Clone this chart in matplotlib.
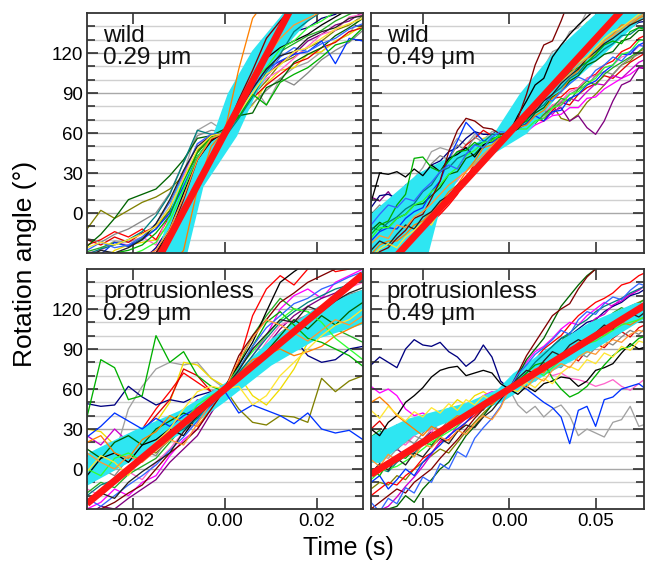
import matplotlib
matplotlib.use('Agg')
import matplotlib.pyplot as plt
import numpy as np
from matplotlib.ticker import FixedLocator

plt.rcParams['font.family'] = ['Liberation Sans', 'DejaVu Sans']
plt.rcParams['axes.unicode_minus'] = False

# ---------------- data ----------------
panel_labels = ["wild\n0.29 \u03bcm", "wild\n0.49 \u03bcm",
                "protrusionless\n0.29 \u03bcm", "protrusionless\n0.49 \u03bcm"]

time_short = [-0.030, -0.027, -0.024, -0.021, -0.018, -0.015, -0.012, -0.009, -0.006, -0.003,
              0.000, 0.003, 0.006, 0.009, 0.012, 0.015, 0.018, 0.021, 0.024, 0.027, 0.030]
time_long = [-0.080, -0.075, -0.070, -0.065, -0.060, -0.055, -0.050, -0.045, -0.040, -0.035,
             -0.030, -0.025, -0.020, -0.015, -0.010, -0.005, 0.000, 0.005, 0.010, 0.015,
             0.020, 0.025, 0.030, 0.035, 0.040, 0.045, 0.050, 0.055, 0.060, 0.065,
             0.070, 0.075, 0.080]

trace_colors = ['#808000', '#006400', '#a0a0a0', '#0033ff', '#f0dc00', '#000000', '#ff0000', '#ff8000',
                '#ff00ff', '#008080', '#800080', '#00b000', '#000080', '#33ff33', '#ff66cc', '#800000',
                '#e00000', '#3366ff', '#888888', '#222222', '#cc00cc', '#ffe633', '#22aa22', '#ff9933']

wild029_traces = [
    [-12, 2, -4, 2, 8, 12, 18, 28, 42, 56, 62, 74, 88, 99, 112, 117, 124, 129, 137, 141, 148],
    [-25, -16, -4, 10, 14, 18, 28, 40, 56, 58, 63, 73, 75, 94, 99, 113, 119, 124, 133, 139, 146],
    [-36, -27, -21, -22, -18, -10, 5, 30, 62, 68, 61, 79, 96, 81, 101, 109, 113, 121, 129, 134, 151],
    [-41, -31, -22, -25, -20, -12, 0, 20, 42, 55, 60, 76, 94, 108, 114, 119, 121, 129, 112, 131, 129],
    [-46, -37, -28, -24, -22, -20, -8, 15, 40, 58, 62, 71, 81, 97, 107, 109, 119, 121, 129, 134, 141],
    [-52, -45, -40, -38, -34, -30, -12, 15, 40, 54, 61, 79, 99, 116, 124, 129, 134, 141, 147, 153, 157],
    [-24, -20, -14, -18, -12, -20, -2, 20, 42, 55, 60, 81, 104, 126, 139, 151, 159, 166, 169, 176, 179],
    [-61, -58, -56, -54, -50, -46, -40, -28, 18, 50, 62, 108, 146, 160, 170, 175, 180, 185, 190, 195, 198],
    [-46, -39, -36, -35, -32, -28, -14, 8, 38, 56, 60, 86, 114, 121, 129, 141, 149, 156, 159, 166, 169],
    [-31, -27, -24, -20, -14, -2, 14, 38, 62, 59, 57, 71, 87, 106, 119, 136, 144, 151, 154, 161, 164],
    [-56, -50, -47, -44, -40, -36, -20, 5, 35, 52, 60, 74, 93, 103, 113, 119, 129, 134, 141, 144, 151],
    [-39, -32, -30, -28, -24, -15, -2, 24, 45, 57, 61, 72, 89, 81, 98, 104, 109, 117, 126, 129, 139],
    [-51, -46, -42, -40, -36, -26, -10, 14, 42, 55, 60, 83, 99, 119, 127, 136, 139, 146, 149, 156, 159],
    [-43, -38, -36, -32, -28, -22, -6, 18, 42, 56, 61, 79, 99, 109, 123, 129, 139, 144, 151, 151, 156],
    [-30, -28, -22, -24, -18, -24, 2, 28, 52, 57, 62, 77, 89, 101, 107, 116, 125, 134, 137, 147, 149],
    [-49, -46, -44, -40, -36, -30, -16, 10, 40, 55, 60, 85, 107, 131, 144, 156, 164, 171, 174, 181, 184],
    [-20, -24, -18, -22, -15, -10, 2, 22, 46, 57, 61, 70, 86, 96, 104, 112, 116, 124, 128, 136, 139],
    [-28, -22, -26, -24, -18, -8, 8, 30, 52, 59, 60, 80, 97, 103, 117, 124, 121, 127, 131, 138, 142],
    [-19, -22, -16, -12, -6, 0, 15, 38, 58, 62, 61, 69, 82, 92, 101, 96, 105, 115, 122, 128, 137],
    [-33, -28, -30, -26, -20, -8, 10, 32, 50, 58, 60, 77, 93, 108, 118, 121, 131, 136, 139, 146, 148],
    [-58, -54, -50, -47, -44, -40, -28, -2, 30, 52, 60, 84, 105, 124, 136, 146, 152, 160, 164, 170, 172],
    [-26, -22, -24, -20, -16, -10, 4, 26, 48, 58, 60, 75, 90, 104, 111, 121, 124, 131, 138, 142, 146],
    [-29, -26, -22, -25, -19, -12, 2, 22, 47, 58, 62, 79, 96, 112, 121, 127, 133, 137, 144, 149, 153],
    [-44, -42, -40, -36, -33, -28, -12, 12, 40, 56, 60, 82, 103, 117, 131, 141, 146, 151, 159, 162, 166],
]

wild049_traces = [
    [-26, -19, -16, -7, -6, 1, 4, 11, 17, 26, 29, 39, 44, 51, 54, 59, 60, 63, 65, 71, 74, 81, 71, 69, 74, 83, 89, 96, 104, 111, 114, 121, 124],
    [-13, -7, -11, -4, -1, 6, 7, 13, 19, 29, 31, 41, 44, 51, 54, 59, 60, 64, 67, 75, 79, 87, 91, 99, 103, 111, 114, 119, 121, 129, 131, 137, 137],
    [-11, -4, -1, 6, 11, 26, 34, 46, 49, 47, 56, 51, 59, 55, 61, 62, 60, 69, 79, 96, 109, 121, 124, 136, 139, 151, 154, 161, 159, 166, 164, 171, 169],
    [-21, -14, -11, -12, -4, 1, 4, 16, 24, 41, 54, 68, 61, 54, 53, 57, 60, 63, 67, 73, 69, 76, 77, 86, 89, 96, 99, 106, 111, 119, 119, 126, 129],
    [-6, 1, -4, 6, 7, 13, 14, 21, 27, 36, 41, 46, 49, 56, 57, 61, 61, 66, 69, 79, 84, 96, 104, 121, 134, 143, 144, 149, 149, 156, 157, 161, 161],
    [8, 30, 29, 31, 27, 33, 28, 36, 31, 41, 44, 49, 42, 51, 54, 59, 60, 73, 84, 96, 101, 117, 126, 134, 141, 147, 153, 154, 161, 157, 163, 164, 169],
    [-41, -34, -31, -24, -29, -19, -16, -7, -1, 6, 14, 26, 37, 46, 49, 56, 60, 66, 71, 79, 81, 86, 87, 93, 94, 101, 104, 111, 114, 121, 124, 131, 134],
    [-31, -24, -21, -21, -16, -9, -6, 1, 7, 16, 21, 31, 39, 49, 51, 57, 60, 64, 66, 73, 77, 86, 91, 101, 107, 116, 119, 129, 134, 141, 141, 146, 149],
    [-21, -14, -6, 1, 2, 9, 11, 19, 24, 31, 37, 43, 47, 53, 49, 56, 60, 59, 61, 66, 69, 73, 74, 79, 79, 86, 87, 93, 97, 101, 104, 109, 109],
    [-11, -13, -7, -3, 3, 7, 16, 21, 31, 34, 41, 44, 51, 53, 59, 59, 60, 65, 69, 77, 81, 89, 94, 101, 105, 113, 117, 123, 127, 133, 134, 139, 139],
    [12, 9, 16, 7, 21, 24, 29, 28, 36, 39, 46, 49, 47, 53, 54, 59, 60, 63, 64, 71, 71, 76, 79, 69, 73, 64, 59, 69, 84, 96, 99, 109, 108],
    [-16, -9, -6, 6, 14, 41, 42, 34, 31, 39, 46, 47, 53, 49, 56, 57, 60, 66, 69, 81, 89, 96, 99, 106, 109, 113, 119, 126, 129, 127, 136, 139, 137],
    [4, 13, 14, 11, 17, 23, 27, 36, 39, 46, 49, 56, 61, 59, 59, 63, 61, 67, 73, 83, 89, 99, 103, 111, 114, 121, 124, 129, 129, 136, 139, 143, 144],
    [-19, -11, -11, -4, -1, 6, 9, 16, 21, 29, 34, 43, 47, 53, 54, 59, 60, 63, 63, 69, 71, 79, 81, 89, 91, 97, 101, 109, 111, 119, 121, 129, 131],
    [-26, -21, -19, -14, -11, -7, -3, 6, 9, 19, 24, 33, 39, 49, 51, 57, 60, 65, 67, 73, 75, 81, 84, 91, 94, 101, 103, 109, 111, 117, 119, 125, 127],
    [-36, -29, -26, -19, -13, -4, -1, 11, 24, 46, 62, 71, 69, 64, 63, 59, 60, 71, 89, 111, 126, 129, 144, 161, 169, 176, 179, 186, 189, 196, 199, 201, 199],
    [-3, 4, 2, 9, 14, 19, 26, 31, 29, 37, 43, 51, 56, 62, 58, 63, 60, 61, 67, 71, 69, 77, 83, 81, 89, 94, 97, 103, 101, 107, 113, 117, 121],
    [-9, -1, 6, 4, 11, 9, 17, 23, 31, 36, 33, 44, 51, 49, 57, 61, 60, 69, 73, 79, 86, 84, 91, 97, 102, 99, 107, 111, 117, 114, 121, 126, 124],
    [-1, 6, 1, 9, 17, 21, 27, 37, 43, 40, 51, 47, 57, 53, 59, 61, 60, 57, 64, 69, 73, 79, 83, 89, 93, 96, 103, 106, 104, 111, 116, 119, 123],
    [-28, -21, -24, -16, -9, -12, -3, 1, 9, 13, 21, 27, 34, 41, 47, 54, 60, 63, 71, 76, 84, 89, 97, 103, 108, 116, 121, 127, 131, 136, 141, 144, 147],
    [-1, -6, 3, 7, 4, 13, 17, 24, 21, 29, 34, 39, 44, 51, 56, 57, 60, 66, 63, 71, 77, 74, 81, 86, 84, 91, 97, 96, 103, 101, 107, 113, 116],
    [-33, -27, -23, -26, -18, -13, -7, -9, 3, 11, 17, 24, 31, 39, 46, 53, 60, 66, 73, 79, 86, 94, 101, 107, 113, 117, 124, 131, 136, 139, 144, 149, 153],
    [1, -4, 4, 11, 8, 16, 23, 27, 26, 34, 37, 46, 49, 53, 57, 61, 60, 64, 69, 67, 74, 79, 86, 84, 93, 99, 96, 104, 109, 113, 117, 121, 127],
    [-23, -17, -19, -9, -11, -3, 1, 7, 14, 21, 26, 31, 37, 44, 50, 55, 60, 67, 74, 81, 87, 93, 99, 104, 111, 116, 123, 129, 133, 138, 143, 147, 151],
]

prot029_traces = [
    [-10, -5, 2, 8, 15, 12, 22, 30, 42, 52, 60, 45, 35, 33, 40, 39, 35, 68, 58, 66, 70],
    [15, 8, 20, 25, 18, 30, 36, 42, 38, 52, 60, 70, 78, 88, 100, 112, 105, 115, 108, 118, 125],
    [5, 0, 10, 45, 62, 75, 80, 78, 80, 68, 60, 70, 78, 88, 95, 100, 105, 110, 115, 118, 120],
    [24, 32, 42, 36, 30, 38, 32, 40, 46, 52, 58, 42, 48, 44, 40, 34, 42, 30, 27, 29, 22],
    [30, 28, 18, 15, 20, 35, 50, 80, 78, 68, 62, 70, 55, 48, 60, 75, 95, 110, 115, 118, 125],
    [-5, 8, 12, 5, 18, 22, 30, 25, 40, 48, 62, 78, 95, 118, 140, 148, 155, 160, 165, 170, 175],
    [10, 15, 5, 18, 30, 45, 58, 72, 65, 58, 60, 80, 115, 135, 145, 138, 150, 155, 148, 150, 160],
    [20, 25, 12, 8, 22, 28, 40, 35, 32, 45, 60, 72, 82, 86, 90, 85, 88, 92, 100, 105, 110],
    [-30, -25, -15, -20, -10, -5, 10, 22, 30, 45, 60, 70, 85, 100, 120, 130, 135, 128, 140, 145, 150],
    [-20, -12, -8, 0, 10, 18, 25, 30, 38, 50, 60, 72, 85, 98, 110, 118, 125, 130, 135, 138, 142],
    [-35, -28, -30, -22, -15, -8, 5, 15, 25, 42, 58, 68, 80, 92, 105, 115, 122, 128, 132, 140, 145],
    [39, 82, 76, 52, 55, 100, 80, 88, 70, 62, 58, 75, 92, 110, 118, 108, 98, 95, 90, 85, 77],
    [49, 47, 48, 62, 54, 48, 52, 50, 55, 58, 60, 66, 75, 88, 95, 98, 85, 80, 82, 90, 92],
    [0, -5, 8, 12, 6, 18, 22, 35, 48, 55, 61, 76, 88, 100, 112, 120, 118, 110, 98, 90, 82],
    [-15, -20, -10, -2, -8, 5, 15, 28, 35, 50, 59, 72, 80, 95, 108, 112, 115, 122, 128, 136, 140],
    [-40, -30, -25, -18, -12, 0, 12, 20, 30, 45, 60, 85, 100, 112, 125, 132, 140, 145, 150, 155, 160],
    [5, -2, 10, 22, 28, 40, 52, 75, 70, 58, 60, 68, 75, 82, 96, 104, 110, 108, 118, 124, 130],
    [-22, -28, -20, -12, -5, 3, 14, 24, 36, 48, 59, 75, 92, 106, 115, 124, 128, 135, 139, 144, 148],
    [-8, 0, -5, 8, 14, 10, 25, 32, 45, 55, 60, 68, 80, 93, 102, 110, 116, 121, 126, 131, 134],
    [-25, -18, -22, -10, -2, 5, 12, 28, 40, 52, 61, 74, 90, 101, 112, 110, 122, 118, 126, 132, 136],
    [25, 18, 30, 20, 15, 28, 35, 40, 52, 48, 60, 65, 72, 80, 92, 98, 106, 114, 110, 122, 128],
    [-2, 10, 5, -5, 10, 20, 30, 45, 58, 62, 60, 62, 48, 55, 70, 80, 90, 100, 108, 112, 120],
    [-18, -10, -14, -4, 2, 8, 20, 32, 42, 50, 60, 78, 100, 115, 128, 120, 118, 112, 105, 100, 95],
    [12, 5, 0, 10, 5, 14, 22, 18, 34, 50, 60, 82, 98, 112, 108, 102, 96, 104, 112, 108, 115],
]

prot049_traces = [
    [-15, -10, -12, -5, -8, 0, 5, 10, 15, 12, 20, 28, 35, 42, 48, 55, 60, 64, 70, 76, 80, 86, 90, 95, 98, 102, 106, 110, 115, 118, 122, 125, 128],
    [-40, -35, -30, -28, -20, -25, -15, -8, 0, 5, 15, 25, 32, 40, 48, 55, 60, 70, 82, 90, 98, 110, 122, 130, 138, 145, 150, 152, 155, 158, 160, 165, 168],
    [5, 10, 8, 15, 20, 25, 22, 30, 35, 38, 40, 45, 50, 52, 55, 58, 60, 48, 42, 47, 39, 45, 48, 40, 25, 30, 27, 24, 35, 37, 47, 32, 34],
    [-10, -5, -15, -8, 0, -5, 5, 12, 18, 25, 30, 35, 42, 48, 52, 56, 60, 65, 60, 55, 50, 46, 39, 19, 44, 47, 32, 52, 54, 60, 62, 64, 59],
    [20, 18, 25, 22, 28, 35, 30, 38, 40, 45, 52, 48, 55, 58, 54, 58, 61, 65, 68, 72, 78, 82, 88, 92, 98, 100, 105, 108, 112, 115, 118, 120, 122],
    [30, 25, 35, 40, 50, 55, 61, 69, 74, 76, 77, 70, 72, 74, 72, 64, 60, 56, 62, 58, 64, 66, 69, 68, 62, 66, 74, 76, 79, 87, 94, 90, 92],
    [-20, -15, -10, -12, -5, 0, 8, 12, 20, 22, 28, 35, 40, 46, 50, 55, 60, 68, 75, 82, 90, 95, 100, 108, 115, 120, 125, 128, 132, 138, 140, 145, 148],
    [50, 54, 48, 40, 35, 30, 25, 32, 28, 35, 40, 38, 45, 50, 48, 55, 60, 64, 70, 75, 72, 80, 85, 88, 95, 98, 102, 100, 105, 110, 108, 112, 115],
    [62, 57, 60, 55, 45, 40, 42, 38, 35, 40, 45, 48, 50, 55, 58, 57, 60, 70, 80, 88, 92, 98, 105, 110, 108, 115, 120, 125, 122, 128, 130, 135, 138],
    [-5, 0, -2, 5, 10, 12, 18, 22, 25, 30, 35, 38, 42, 48, 52, 56, 60, 66, 72, 80, 86, 92, 98, 102, 108, 112, 118, 122, 125, 128, 132, 135, 138],
    [8, 5, 12, 15, 10, 18, 22, 28, 25, 32, 38, 44, 48, 52, 55, 58, 60, 62, 68, 72, 78, 84, 88, 92, 90, 96, 100, 104, 108, 112, 115, 118, 120],
    [0, -5, 5, 10, 8, 15, 20, 18, 25, 32, 35, 40, 45, 50, 52, 55, 60, 66, 72, 78, 80, 68, 60, 54, 57, 62, 70, 78, 85, 90, 92, 98, 100],
    [78, 84, 80, 76, 90, 97, 93, 92, 95, 88, 84, 77, 82, 93, 84, 66, 60, 68, 75, 80, 85, 92, 98, 100, 105, 110, 112, 118, 122, 125, 130, 132, 136],
    [-8, -2, 0, 2, 6, 10, 15, 20, 24, 28, 32, 40, 44, 50, 55, 57, 60, 66, 70, 74, 70, 76, 82, 86, 90, 94, 96, 100, 104, 108, 110, 112, 115],
    [10, 15, 12, 20, 18, 25, 30, 28, 35, 40, 45, 42, 50, 52, 56, 58, 60, 62, 66, 70, 74, 70, 72, 68, 67, 65, 62, 64, 67, 62, 59, 64, 69],
    [-30, -25, -20, -15, -18, -10, -5, 0, 8, 15, 22, 30, 38, 45, 52, 58, 60, 72, 85, 95, 105, 115, 120, 124, 135, 144, 150, 155, 160, 165, 170, 175, 180],
    [30, 36, 28, 33, 24, 29, 37, 32, 41, 38, 46, 43, 49, 53, 51, 57, 60, 67, 64, 72, 77, 74, 83, 86, 81, 89, 94, 91, 98, 103, 99, 106, 109],
    [-25, -32, -22, -26, -14, -18, -6, -10, 4, 0, 13, 9, 23, 31, 38, 47, 60, 71, 78, 86, 91, 97, 104, 101, 112, 118, 116, 124, 129, 127, 134, 139, 137],
    [16, 11, 19, 14, 23, 19, 27, 33, 29, 37, 34, 43, 47, 44, 52, 56, 60, 63, 69, 66, 73, 78, 76, 83, 87, 84, 91, 96, 93, 99, 104, 101, 107],
    [-3, 4, -1, 8, 3, 12, 9, 17, 23, 19, 28, 33, 31, 39, 44, 52, 60, 68, 74, 72, 81, 88, 85, 93, 97, 94, 102, 108, 105, 113, 117, 114, 119],
    [-38, -31, -28, -21, -13, -6, 2, 11, 21, 24, 32, 38, 43, 49, 53, 57, 60, 64, 71, 77, 82, 86, 93, 97, 102, 107, 113, 116, 123, 126, 131, 134, 139],
    [44, 38, 47, 41, 36, 43, 39, 46, 42, 49, 44, 52, 48, 55, 51, 57, 60, 58, 65, 61, 68, 64, 72, 77, 74, 82, 79, 87, 84, 92, 89, 96, 94],
    [24, 29, 21, 27, 33, 28, 36, 31, 39, 35, 43, 40, 47, 52, 49, 55, 60, 66, 73, 80, 84, 91, 96, 102, 99, 106, 112, 109, 117, 121, 118, 124, 129],
    [7, 2, 11, 6, 14, 9, 19, 16, 24, 21, 29, 26, 34, 40, 37, 46, 60, 64, 61, 69, 66, 74, 79, 76, 84, 88, 86, 93, 97, 95, 101, 104, 102],
]

# cyan bands: (angle levels, time left, time right) or (time, angle low, angle high)
wild029_band_angle = [-40, -30, 20, 58, 90, 122, 150, 160]
wild029_band_tleft = [-0.0158, -0.0148, -0.0104, -0.0028, 0.0005, 0.0058, 0.0125, 0.0140]
wild029_band_tright = [-0.0093, -0.0083, -0.0048, 0.0025, 0.0067, 0.0122, 0.0195, 0.0210]
wild049_band_angle = [-35, -30, 0, 30, 60, 90, 120, 150, 155]
wild049_band_tleft = [-0.085, -0.082, -0.080, -0.053, -0.009, 0.006, 0.025, 0.050, 0.054]
wild049_band_tright = [-0.050, -0.047, -0.041, -0.028, 0.010, 0.029, 0.055, 0.080, 0.083]
prot029_band_t = [-0.030, -0.020, -0.010, 0.000, 0.010, 0.020, 0.030]
prot029_band_lo = [-12, 7, 26, 51, 78, 98, 109]
prot029_band_hi = [12, 29, 44, 65, 98, 122, 135]
prot049_band_angle = [5, 25, 38, 50, 60, 72, 90, 110, 125]
prot049_band_tleft = [-0.095, -0.080, -0.059, -0.025, -0.007, 0.002, 0.021, 0.046, 0.073]
prot049_band_tright = [-0.075, -0.056, -0.031, -0.005, 0.007, 0.022, 0.049, 0.074, 0.097]

# fitted lines (red): endpoints
wild029_fit_t = [-0.03, 0.03]
wild029_fit_y = [-135, 255]
wild049_fit_t = [-0.08, 0.08]
wild049_fit_y = [-53, 173]
prot029_fit_t = [-0.03, 0.03]
prot029_fit_y = [-26, 146]
prot049_fit_t = [-0.08, 0.08]
prot049_fit_y = [-4, 124]

# ---------------- figure ----------------
W, H = 645, 563
fig = plt.figure(figsize=(W / 100, H / 100), dpi=100)

def box(x0, x1, y0, y1):
    return [x0 / W, 1 - y1 / H, (x1 - x0) / W, (y1 - y0) / H]

axA = fig.add_axes(box(87, 363, 13, 253))
axB = fig.add_axes(box(371, 644, 13, 253))
axC = fig.add_axes(box(87, 363, 269, 509))
axD = fig.add_axes(box(371, 644, 269, 509))

CYAN = '#2ee6f2'
axA.fill_betweenx(wild029_band_angle, wild029_band_tleft, wild029_band_tright, color=CYAN, lw=0, zorder=2)
axB.fill_betweenx(wild049_band_angle, wild049_band_tleft, wild049_band_tright, color=CYAN, lw=0, zorder=2)
axC.fill_between(prot029_band_t, prot029_band_lo, prot029_band_hi, color=CYAN, lw=0, zorder=2)
axD.fill_betweenx(prot049_band_angle, prot049_band_tleft, prot049_band_tright, color=CYAN, lw=0, zorder=2)

panels = [
    (axA, time_short, wild029_traces, wild029_fit_t, wild029_fit_y, (-0.03, 0.03), [-0.02, 0.0, 0.02]),
    (axB, time_long, wild049_traces, wild049_fit_t, wild049_fit_y, (-0.08, 0.078), [-0.05, 0.0, 0.05]),
    (axC, time_short, prot029_traces, prot029_fit_t, prot029_fit_y, (-0.03, 0.03), [-0.02, 0.0, 0.02]),
    (axD, time_long, prot049_traces, prot049_fit_t, prot049_fit_y, (-0.08, 0.078), [-0.05, 0.0, 0.05]),
]

for i, (ax, tt, traces, ft, fy, xlim, xt) in enumerate(panels):
    for y in range(-20, 150, 10):
        major = (y % 30 == 0)
        ax.axhline(y, color='#a8a8a8' if major else '#d0d0d0', lw=1.0, zorder=0)
    for k, tr in enumerate(traces):
        ax.plot(tt, tr, color=trace_colors[k % len(trace_colors)], lw=0.95,
                zorder=1 if k % 2 == 0 else 3)
    ax.plot(ft, fy, color='#ff1414', lw=5, solid_capstyle='butt', zorder=4)
    ax.set_xlim(*xlim)
    ax.set_ylim(-30, 150)
    ax.yaxis.set_major_locator(FixedLocator([0, 30, 60, 90, 120]))
    ax.yaxis.set_minor_locator(FixedLocator([-20, -10, 10, 20, 40, 50, 70, 80, 100, 110, 130, 140]))
    ax.xaxis.set_major_locator(FixedLocator(xt))
    ax.tick_params(which='both', direction='in', top=True, right=True, width=1.1, color='#222222',
                   labelsize=13.5, pad=3)
    ax.tick_params(which='major', length=8)
    ax.tick_params(which='minor', length=6)
    for sp in ax.spines.values():
        sp.set_linewidth(1.3)
        sp.set_color('#333333')
        sp.set_zorder(6)
    if i in (0, 2):
        ax.set_yticklabels(['0', '30', '60', '90', '120'])
    else:
        ax.set_yticklabels([])
    if i in (2, 3):
        ax.set_xticklabels(['%.2f' % v for v in xt])
    else:
        ax.set_xticklabels([])
    ax.text(0.058, 0.948, panel_labels[i], transform=ax.transAxes, ha='left', va='top',
            fontsize=17.5, linespacing=1.0, color='#111111', zorder=7)

fig.text(348 / W, 1 - 548 / H, 'Time (s)', ha='center', va='center', fontsize=18)
fig.text(25 / W, 1 - 264 / H, 'Rotation angle (\u00b0)', ha='center', va='center',
         rotation=90, fontsize=19)

fig.savefig('out.png', dpi=100)
